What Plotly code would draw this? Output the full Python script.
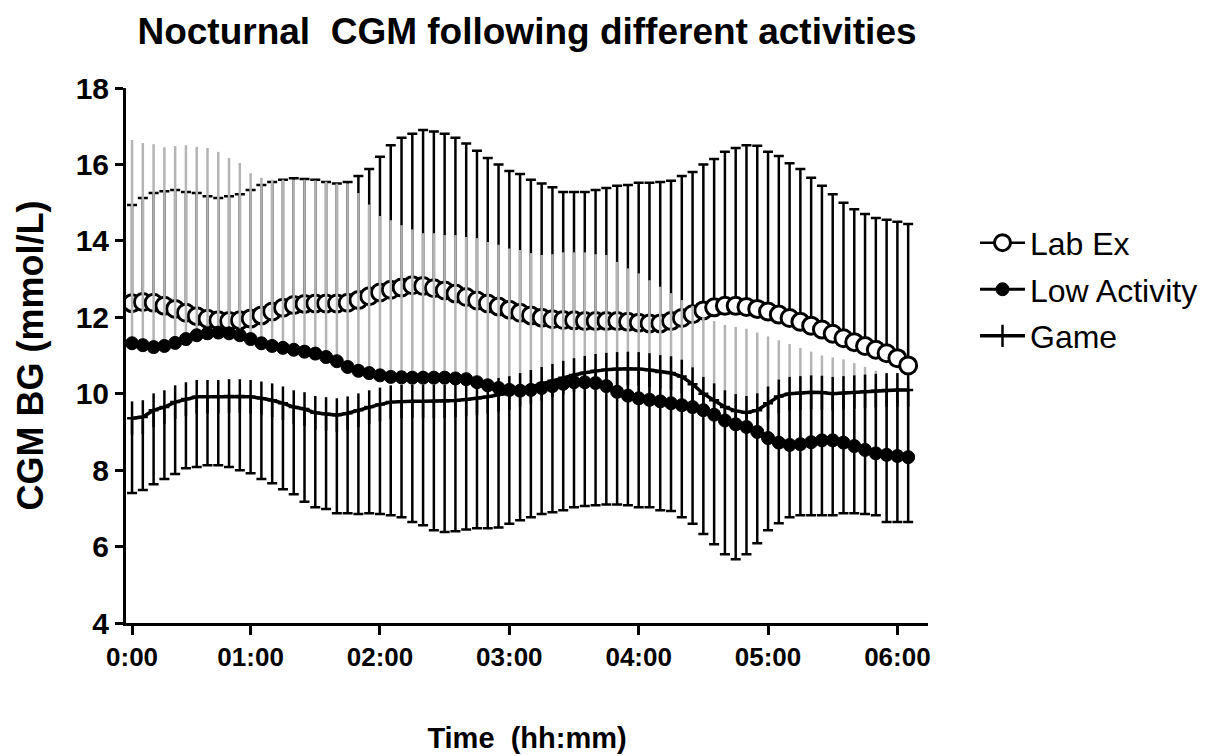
import plotly.graph_objects as go

# CGM readings every 5 minutes through the night
minutes = list(range(5, 366, 5))

lab_ex_mean = [12.37, 12.40, 12.38, 12.30, 12.22, 12.12, 12.03, 11.96, 11.92, 11.90,
               11.92, 11.97, 12.05, 12.15, 12.25, 12.32, 12.35, 12.36, 12.36, 12.36,
               12.38, 12.45, 12.55, 12.65, 12.72, 12.78, 12.84, 12.82, 12.76, 12.70,
               12.62, 12.53, 12.44, 12.36, 12.28, 12.20, 12.12, 12.05, 11.99, 11.95,
               11.93, 11.92, 11.90, 11.90, 11.90, 11.90, 11.88, 11.86, 11.84, 11.84,
               11.90, 11.98, 12.08, 12.18, 12.26, 12.30, 12.30, 12.27, 12.22, 12.15,
               12.07, 11.98, 11.88, 11.78, 11.68, 11.57, 11.45, 11.35, 11.25, 11.15,
               11.06, 10.93, 10.74]
lab_ex_upper = [14.94, 15.12, 15.25, 15.30, 15.33, 15.28, 15.25, 15.17, 15.12, 15.17,
                15.22, 15.33, 15.46, 15.54, 15.60, 15.64, 15.62, 15.60, 15.54, 15.50,
                15.54, 15.70, 15.88, 16.20, 16.50, 16.70, 16.80, 16.90, 16.86, 16.80,
                16.70, 16.55, 16.36, 16.17, 16.00, 15.83, 15.75, 15.60, 15.50, 15.40,
                15.28, 15.28, 15.28, 15.33, 15.38, 15.44, 15.46, 15.52, 15.52, 15.54,
                15.57, 15.70, 15.80, 16.00, 16.14, 16.33, 16.43, 16.50, 16.49, 16.33,
                16.22, 16.03, 15.88, 15.65, 15.44, 15.22, 15.00, 14.83, 14.70, 14.60,
                14.55, 14.50, 14.44]

low_act_mean = [11.32, 11.27, 11.22, 11.25, 11.33, 11.43, 11.53, 11.58, 11.60, 11.58,
                11.53, 11.43, 11.32, 11.25, 11.20, 11.15, 11.10, 11.05, 10.96, 10.85,
                10.70, 10.60, 10.54, 10.48, 10.44, 10.43, 10.42, 10.42, 10.42, 10.42,
                10.40, 10.38, 10.30, 10.22, 10.15, 10.10, 10.08, 10.10, 10.15, 10.20,
                10.26, 10.30, 10.30, 10.28, 10.20, 10.05, 9.95, 9.88, 9.84, 9.80,
                9.75, 9.70, 9.65, 9.57, 9.45, 9.30, 9.20, 9.13, 9.00, 8.84,
                8.72, 8.66, 8.68, 8.73, 8.78, 8.78, 8.72, 8.63, 8.53, 8.44,
                8.40, 8.37, 8.34]
low_act_upper = [16.64, 16.56, 16.53, 16.45, 16.48, 16.50, 16.46, 16.43, 16.33, 16.17,
                 16.04, 15.77, 15.65, 15.60, 15.60, 15.60, 15.60, 15.58, 15.55, 15.50,
                 15.50, 15.25, 14.95, 14.65, 14.54, 14.41, 14.30, 14.20, 14.20, 14.15,
                 14.15, 14.10, 14.07, 13.97, 13.90, 13.80, 13.76, 13.68, 13.63, 13.65,
                 13.70, 13.70, 13.70, 13.65, 13.63, 13.45, 13.28, 13.15, 12.97, 12.80,
                 12.63, 12.45, 12.30, 12.00, 11.90, 11.80, 11.75, 11.70, 11.60, 11.50,
                 11.40, 11.30, 11.20, 11.10, 11.00, 10.95, 10.90, 10.80, 10.70, 10.60,
                 10.50, 10.40, 10.30]

game_mean = [9.36, 9.39, 9.57, 9.65, 9.78, 9.86, 9.92, 9.92, 9.92, 9.94,
             9.94, 9.92, 9.88, 9.83, 9.75, 9.65, 9.60, 9.50, 9.47, 9.44,
             9.49, 9.57, 9.65, 9.72, 9.78, 9.80, 9.80, 9.80, 9.80, 9.80,
             9.82, 9.85, 9.88, 9.92, 9.97, 10.02, 10.10, 10.18, 10.26, 10.34,
             10.42, 10.49, 10.55, 10.60, 10.63, 10.65, 10.66, 10.65, 10.62, 10.57,
             10.54, 10.45, 10.25, 10.00, 9.83, 9.65, 9.55, 9.50, 9.57, 9.75,
             9.93, 10.00, 10.02, 10.04, 10.03, 10.00, 10.02, 10.04, 10.06, 10.08,
             10.10, 10.10, 10.10]
game_lower = [7.40, 7.48, 7.63, 7.77, 7.90, 8.05, 8.08, 8.13, 8.13, 8.08,
              8.00, 7.92, 7.77, 7.66, 7.50, 7.37, 7.17, 7.03, 6.98, 6.87,
              6.87, 6.85, 6.87, 6.85, 6.82, 6.77, 6.64, 6.56, 6.43, 6.38,
              6.40, 6.45, 6.48, 6.48, 6.50, 6.60, 6.69, 6.77, 6.85, 6.90,
              6.95, 7.03, 7.06, 7.08, 7.10, 7.10, 7.08, 7.03, 7.03, 6.95,
              6.93, 6.77, 6.60, 6.33, 6.06, 5.80, 5.67, 5.80, 6.09, 6.43,
              6.61, 6.77, 6.82, 6.82, 6.82, 6.82, 6.87, 6.87, 6.85, 6.82,
              6.64, 6.64, 6.64]

x_tick_vals = [5, 60, 120, 180, 240, 300, 360]
x_tick_text = ["0:00", "01:00", "02:00", "03:00", "04:00", "05:00", "06:00"]
y_tick_vals = [4, 6, 8, 10, 12, 14, 16, 18]

FONT = "Liberation Sans, Arial, sans-serif"
zeros = [0] * len(minutes)

lab_ex_err = [u - m for u, m in zip(lab_ex_upper, lab_ex_mean)]
low_act_err = [u - m for u, m in zip(low_act_upper, low_act_mean)]
game_err = [m - lo for m, lo in zip(game_mean, game_lower)]

fig = go.Figure()

fig.add_trace(go.Scatter(
    x=minutes, y=lab_ex_mean, name="Lab Ex", mode="lines+markers",
    legendgroup="a",
    line=dict(color="black", width=2.5),
    marker=dict(symbol="circle", size=17, color="white",
                line=dict(color="black", width=3)),
    error_y=dict(type="data", symmetric=False, array=lab_ex_err,
                 arrayminus=zeros, color="black", thickness=2.5, width=5),
))

fig.add_trace(go.Scatter(
    x=minutes, y=low_act_mean, name="Low Activity", mode="lines+markers",
    legendgroup="b",
    line=dict(color="black", width=3),
    marker=dict(symbol="circle", size=13, color="black",
                line=dict(color="black", width=1)),
    error_y=dict(type="data", symmetric=False, array=low_act_err,
                 arrayminus=zeros, color="#b4b4b4", thickness=2.5, width=0),
))

fig.add_trace(go.Scatter(
    x=minutes, y=game_mean, name="Game", mode="lines+markers",
    legendgroup="c",
    line=dict(color="black", width=3.5),
    marker=dict(symbol="line-ns-open", size=24, color="black",
                line=dict(color="black", width=2.5)),
    error_y=dict(type="data", symmetric=False, array=zeros,
                 arrayminus=game_err, color="black", thickness=2.5, width=5),
))

fig.update_layout(
    width=1207, height=756,
    margin=dict(l=126, r=279, t=88, b=133, autoexpand=False),
    paper_bgcolor="white", plot_bgcolor="white",
    font=dict(family=FONT, color="black"),
    title=dict(text="Nocturnal  CGM following different activities",
               x=0.5, xref="paper", y=1 - 31 / 756, yref="container",
               xanchor="center", yanchor="middle",
               font=dict(family=FONT, size=37, weight="bold", color="black")),
    showlegend=True,
    legend=dict(x=1.0586, xanchor="left", y=0.762, yanchor="top",
                traceorder="grouped", tracegroupgap=2, itemwidth=45,
                font=dict(family=FONT, size=32, color="black"),
                bgcolor="rgba(0,0,0,0)", itemsizing="trace"),
)

fig.update_xaxes(
    range=[2.2, 374.2], tickmode="array", tickvals=x_tick_vals, ticktext=x_tick_text,
    showgrid=False, zeroline=False, showline=True, linecolor="black", linewidth=3,
    ticks="outside", ticklen=9, tickwidth=3, tickcolor="black", automargin=False,
    tickfont=dict(family=FONT, size=26, weight="bold", color="black"),
    title=dict(text="Time  (hh:mm)", standoff=57,
               font=dict(family=FONT, size=29, weight="bold", color="black")),
)

fig.update_yaxes(
    range=[4, 18], tickmode="array", tickvals=y_tick_vals,
    showgrid=False, zeroline=False, showline=True, linecolor="black", linewidth=3,
    ticks="outside", ticklen=8, tickwidth=3, tickcolor="black", automargin=False,
    tickfont=dict(family=FONT, size=30, weight="bold", color="black"),
    title=dict(text="CGM BG (mmol/L)", standoff=22,
               font=dict(family=FONT, size=36, weight="bold", color="black")),
)

fig.write_html("out.html")
